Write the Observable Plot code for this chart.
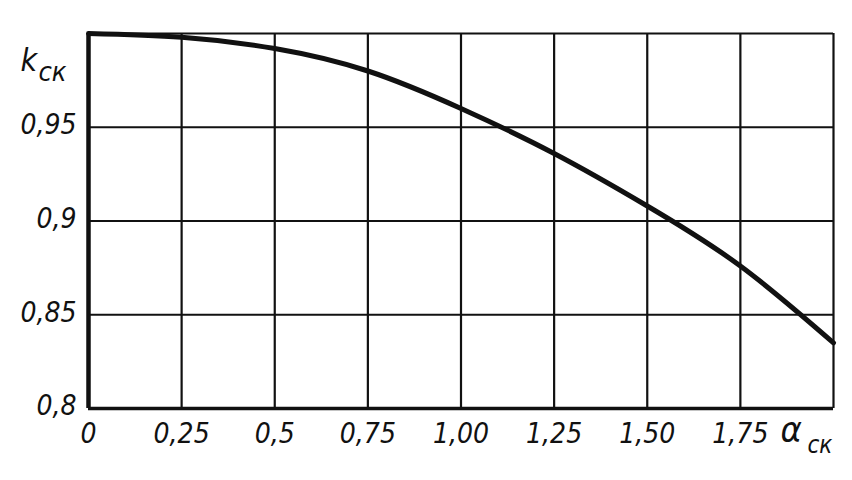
<!DOCTYPE html>
<html><head><meta charset="utf-8">
<script src="https://cdn.jsdelivr.net/npm/d3@7"></script>
<script src="https://cdn.jsdelivr.net/npm/@observablehq/plot@0.6"></script>
<style>
body{margin:0;background:#fff;}
#chart svg{display:block;}
</style>
</head><body><div id="chart"></div>
<script>
const alpha = [0, 0.25, 0.5, 0.75, 1.0, 1.25, 1.5, 1.75, 2.0];
const kck   = [1.0, 0.998, 0.992, 0.980, 0.960, 0.936, 0.908, 0.876, 0.835];
const xTicks = [0, 0.25, 0.5, 0.75, 1.0, 1.25, 1.5, 1.75];
const xTickLabels = ["0", "0,25", "0,5", "0,75", "1,00", "1,25", "1,50", "1,75"];
const yTicks = [0.8, 0.85, 0.9, 0.95];
const yTickLabels = ["0,8", "0,85", "0,9", "0,95"];
const xGrid = [0.25, 0.5, 0.75, 1.0, 1.25, 1.5, 1.75, 2.0];
const yGrid = [0.85, 0.9, 0.95, 1.0];

const data = alpha.map((a, i) => ({a, k: kck[i]}));
const font = "'Liberation Sans Narrow', 'DejaVu Sans Condensed', sans-serif";

const chart = Plot.plot({
  width: 852, height: 480,
  marginLeft: 88, marginRight: 19, marginTop: 33, marginBottom: 72,
  style: {fontFamily: font, fontStyle: "italic", background: "#fff", color: "#111"},
  x: {domain: [0, 2], axis: null},
  y: {domain: [0.8, 1.0], axis: null},
  marks: [
    Plot.ruleX(xGrid, {stroke: "#111", strokeWidth: 2.2}),
    Plot.ruleY(yGrid, {stroke: "#111", strokeWidth: 2.2}),
    Plot.ruleX([0], {stroke: "#111", strokeWidth: 4.5}),
    Plot.ruleY([0.8], {stroke: "#111", strokeWidth: 3.5}),
    Plot.line(data, {x: "a", y: "k", curve: "natural", stroke: "#111", strokeWidth: 5}),
    Plot.text(xTicks, {x: d => d, y: 0.8, text: (d, i) => xTickLabels[i], dy: 26, fontSize: 28, fill: "#111", textAnchor: "middle"}),
    Plot.text(yTicks, {x: 0, y: d => d, text: (d, i) => yTickLabels[i], dx: -12, dy: -2, fontSize: 28, fill: "#111", textAnchor: "end"}),
    Plot.text(["k"], {frameAnchor: "top-left", dx: -68, dy: 15, fontSize: 32, fill: "#111", textAnchor: "start"}),
    Plot.text(["ск"], {frameAnchor: "top-left", dx: -50, dy: 28, fontSize: 27, fill: "#111", textAnchor: "start"}),
    Plot.text(["α"], {frameAnchor: "bottom-right", dx: -53, dy: 33, fontSize: 36, fill: "#111", textAnchor: "start"}),
    Plot.text(["ск"], {frameAnchor: "bottom-right", dx: -26, dy: 44, fontSize: 24, fill: "#111", textAnchor: "start"})
  ]
});
document.getElementById("chart").append(chart);
</script>
</body></html>
